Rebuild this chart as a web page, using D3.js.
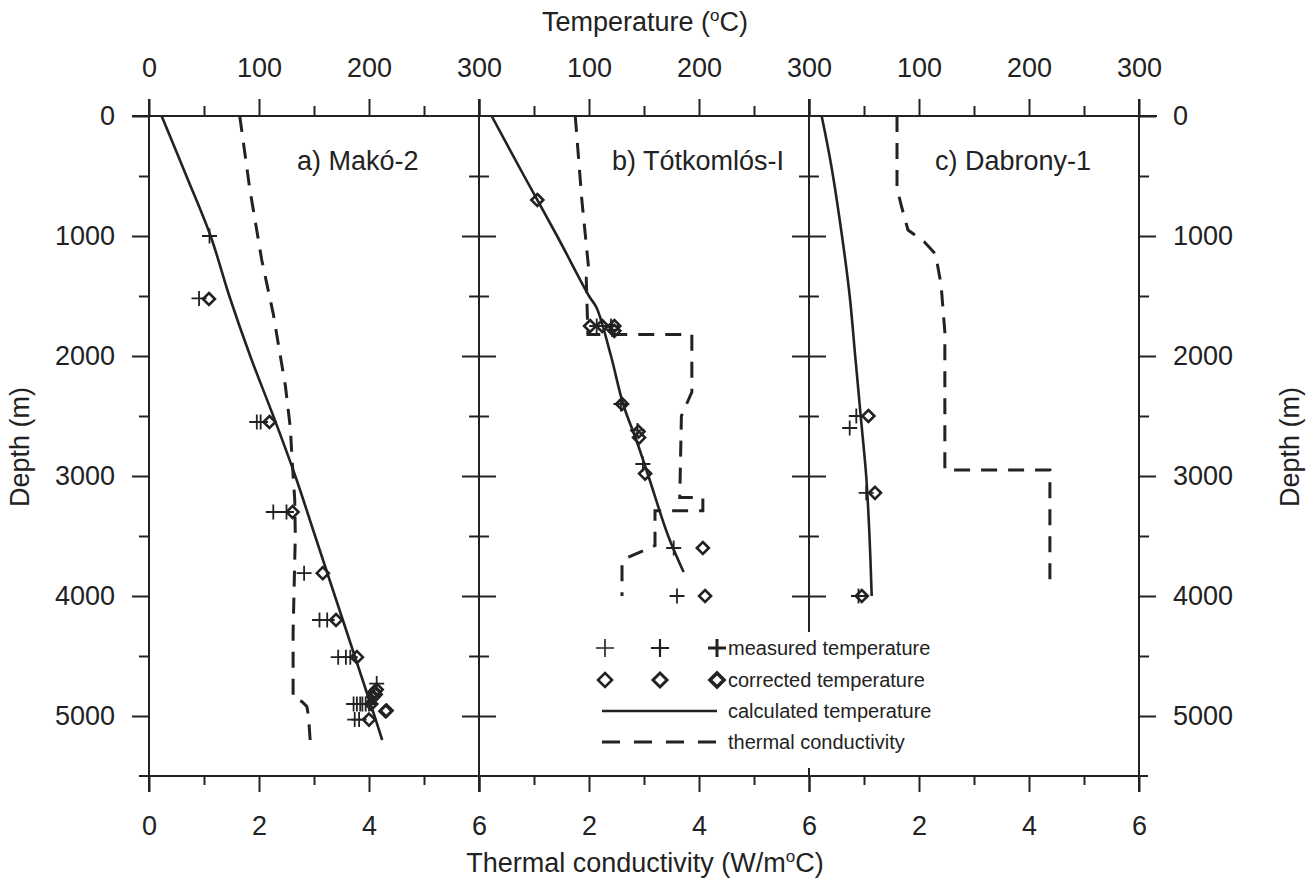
<!DOCTYPE html>
<html><head><meta charset="utf-8">
<script src="https://cdn.jsdelivr.net/npm/d3@7/dist/d3.min.js"></script>
<style>
body{margin:0;background:#fff}
text{font-family:"Liberation Sans",Arial,sans-serif;fill:#222}
</style>
</head><body>
<svg id="c" width="1306" height="880"></svg>
<script>
// ---------- data ----------
const panelNames = ["a) Makó-2", "b) Tótkomlós-I", "c) Dabrony-1"];
const tempTicks = [0, 50, 100, 150, 200, 250, 300];
const condTicks = [0, 1, 2, 3, 4, 5, 6];
const depthTicks = [0, 500, 1000, 1500, 2000, 2500, 3000, 3500, 4000, 4500, 5000];
const legendLabels = ["measured temperature", "corrected temperature", "calculated temperature", "thermal conductivity"];

// [depth (m), temperature (°C)]
const makoCalc = [[0,11.5],[500,34],[1000,56],[1500,73],[2000,92],[2500,113],[3000,133],[3500,151],[4000,169],[4500,187],[5000,205],[5200,212]];
const makoMeasured = [[1000,55],[1520,45.5],[2550,98],[2550,101.5],[3300,113],[3300,125],[3810,141],[4200,155],[4200,162],[4510,172],[4510,179],[4510,183],[4730,207],[4900,186],[4900,189],[4900,192],[4900,194],[4900,197],[4900,200],[5030,187],[5030,191]];
const makoCorrected = [[1525,54.5],[2550,109.5],[3300,130.5],[3810,158],[4200,170],[4510,189],[4780,207],[4800,205],[4820,206],[4840,204],[4900,202],[4960,215],[4955,216],[5030,200]];
// [depth (m), conductivity (W/m°C)]
const makoCond = [[0,1.65],[600,1.83],[1200,2.05],[1650,2.26],[2250,2.48],[2600,2.57],[2850,2.6],[3200,2.65],[3500,2.66],[3900,2.64],[4300,2.62],[4850,2.62],[4880,2.78],[4920,2.87],[5000,2.9],[5200,2.93]];

const totCalc = [[0,11.5],[500,41],[1000,71],[1500,100],[1600,107],[2000,120],[2400,131],[2700,143],[3000,154],[3500,172],[3800,186]];
const totMeasured = [[1750,107],[1750,120],[1780,121],[2400,129],[2620,144],[2900,149],[3600,177],[4000,180]];
const totCorrected = [[700,53],[1750,101],[1750,112],[1750,123],[1790,123],[2400,130],[2630,145],[2680,145.5],[2980,151],[3600,203.5],[4000,205.5]];
const totCond = [[0,1.75],[700,1.87],[1300,2.0],[1350,1.95],[1820,1.98],[1820,3.87],[2300,3.87],[2500,3.68],[3180,3.65],[3180,4.07],[3290,4.07],[3290,3.2],[3580,3.2],[3680,2.7],[3720,2.6],[4000,2.6]];

const dabCalc = [[0,11.5],[400,20],[1000,30],[1500,37],[2000,42],[2500,47],[3000,52],[3500,55],[4000,57]];
const dabMeasured = [[2500,43],[2600,37],[3140,52],[4000,45]];
const dabCorrected = [[2500,54],[3140,60],[4000,48]];
const dabCond = [[0,1.6],[600,1.6],[750,1.68],[950,1.8],[1050,2.1],[1150,2.3],[1400,2.4],[1800,2.47],[2950,2.47],[2950,4.38],[3870,4.38]];

const panels = [
  {name: panelNames[0], calc: makoCalc, meas: makoMeasured, corr: makoCorrected, cond: makoCond},
  {name: panelNames[1], calc: totCalc, meas: totMeasured, corr: totCorrected, cond: totCond},
  {name: panelNames[2], calc: dabCalc, meas: dabMeasured, corr: dabCorrected, cond: dabCond}
];

// ---------- layout ----------
const ink = "#222";
const FONT = "Liberation Sans, Arial, sans-serif";
const svg = d3.select("#c");
const y = d3.scaleLinear().domain([0, 5500]).range([116, 776]);
const panelX = d3.scaleLinear().domain([0, 3]).range([149, 1139]);
const crossPath = s => `M${-s},0H${s}M0,${-s}V${s}`;
const diamondPath = s => `M0,${-s}L${s},0L0,${s}L${-s},0Z`;

function styleAxis(g){
  g.attr("font-family", FONT).attr("font-size", 27);
  g.select(".domain").remove();
  g.selectAll("line").attr("stroke", ink).attr("stroke-width", 2);
  g.selectAll("text").attr("fill", ink);
}

panels.forEach((p, i) => {
  const x0 = panelX(i), x1 = panelX(i + 1);
  const xT = d3.scaleLinear().domain([0, 300]).range([x0, x1]);
  const xK = d3.scaleLinear().domain([0, 6]).range([x0, x1]);

  // top temperature axis
  svg.append("g").attr("transform", `translate(0,${y(0)})`)
    .call(d3.axisTop(xT).tickValues(tempTicks).tickSize(17).tickPadding(22)
      .tickFormat(d => (d % 100 === 0 && (i === 0 || d > 0)) ? d : ""))
    .call(styleAxis)
    .call(g => g.selectAll(".tick").filter(d => d % 100 !== 0).select("line").attr("y2", -10));

  // bottom conductivity axis
  svg.append("g").attr("transform", `translate(0,${y(5500)})`)
    .call(d3.axisBottom(xK).tickValues(condTicks).tickSize(16).tickPadding(24)
      .tickFormat(d => (d % 2 === 0 && (i === 0 || d > 0)) ? d : ""))
    .call(styleAxis)
    .call(g => g.selectAll(".tick").filter(d => d % 2 !== 0).select("line").attr("y2", 9));

  // conductivity (dashed)
  svg.append("path").datum(p.cond)
    .attr("d", d3.line().x(d => xK(d[1])).y(d => y(d[0])))
    .attr("fill", "none").attr("stroke", ink).attr("stroke-width", 3)
    .attr("stroke-dasharray", "16,11");

  // calculated temperature (solid)
  svg.append("path").datum(p.calc)
    .attr("d", d3.line().x(d => xT(d[1])).y(d => y(d[0])).curve(d3.curveCatmullRom.alpha(0.5)))
    .attr("fill", "none").attr("stroke", ink).attr("stroke-width", 2.6);

  // measured temperature (+)
  svg.append("g").selectAll("path").data(p.meas).join("path")
    .attr("transform", d => `translate(${xT(d[1])},${y(d[0])})`)
    .attr("d", crossPath(7.5)).attr("stroke", ink).attr("stroke-width", 1.8).attr("fill", "none");

  // corrected temperature (diamond)
  svg.append("g").selectAll("path").data(p.corr).join("path")
    .attr("transform", d => `translate(${xT(d[1])},${y(d[0])})`)
    .attr("d", diamondPath(6)).attr("stroke", ink).attr("stroke-width", 2.6).attr("fill", "none");

  // panel label
  svg.append("text").attr("x", x0 + [148, 133, 126][i]).attr("y", 170)
    .attr("font-size", 27).text(p.name);
});

// ---------- frame lines ----------
const frame = svg.append("g").attr("stroke", ink).attr("stroke-width", 2);
frame.append("line").attr("x1", 132).attr("x2", 1157).attr("y1", y(0)).attr("y2", y(0));
frame.append("line").attr("x1", 139).attr("x2", 1148).attr("y1", y(5500)).attr("y2", y(5500));
frame.append("line").attr("x1", panelX(0)).attr("x2", panelX(0)).attr("y1", y(0) - 17).attr("y2", y(5500) + 16);
frame.append("line").attr("x1", panelX(1)).attr("x2", panelX(1)).attr("y1", y(0) - 17).attr("y2", y(5500) + 16);
frame.append("line").attr("x1", panelX(2)).attr("x2", panelX(2)).attr("y1", y(0) - 17).attr("y2", y(4300));
frame.append("line").attr("x1", panelX(2)).attr("x2", panelX(2)).attr("y1", y(5500) - 8).attr("y2", y(5500));
frame.append("line").attr("x1", panelX(3)).attr("x2", panelX(3)).attr("y1", y(0) - 17).attr("y2", y(5500) + 16);

// depth axes
function depthAxis(xpos, axisFn, ticks, labelled, minorLen){
  svg.append("g").attr("transform", `translate(${xpos},0)`)
    .call(axisFn(y).tickValues(ticks).tickSize(17).tickPadding(17)
      .tickFormat(d => labelled && d % 1000 === 0 ? d : ""))
    .call(styleAxis)
    .call(g => g.selectAll(".tick").filter(d => d % 1000 !== 0).select("line")
      .attr("x2", axisFn === d3.axisLeft ? -minorLen : minorLen));
}
depthAxis(panelX(0), d3.axisLeft, depthTicks, true, 10);
depthAxis(panelX(3), d3.axisRight, depthTicks, true, 10);
const div1 = depthTicks.filter(d => d > 0);
depthAxis(panelX(1), d3.axisLeft, div1, false, 10);
depthAxis(panelX(1), d3.axisRight, div1, false, 10);
const div2 = depthTicks.filter(d => d > 0 && d <= 4000);
depthAxis(panelX(2), d3.axisLeft, div2, false, 10);
depthAxis(panelX(2), d3.axisRight, div2, false, 10);

// ---------- titles ----------
function degTitle(x, yb, before, after){
  const t = svg.append("text").attr("x", x).attr("y", yb).attr("text-anchor", "middle").attr("font-size", 27);
  t.append("tspan").text(before);
  t.append("tspan").attr("font-size", 17).attr("dy", -10).text("o");
  t.append("tspan").attr("dy", 10).text(after);
}
degTitle(645, 31, "Temperature (", "C)");
degTitle(645, 872, "Thermal conductivity (W/m", "C)");
svg.append("text").attr("transform", "translate(29,447) rotate(-90)").attr("text-anchor", "middle").attr("font-size", 27).text("Depth (m)");
svg.append("text").attr("transform", "translate(1299,447) rotate(-90)").attr("text-anchor", "middle").attr("font-size", 27).text("Depth (m)");

// ---------- legend ----------
const legX = [605, 660, 717];
const legY = [648, 680, 711, 742];
const leg = svg.append("g");
legX.forEach((lx, j) => {
  leg.append("path").attr("transform", `translate(${lx},${legY[0]})`).attr("d", crossPath(9))
    .attr("stroke", ink).attr("stroke-width", [1.6, 2.2, 3][j]).attr("fill", "none");
  leg.append("path").attr("transform", `translate(${lx},${legY[1]})`).attr("d", diamondPath(7))
    .attr("stroke", ink).attr("stroke-width", [2.6, 3, 3.6][j]).attr("fill", "none");
});
leg.append("line").attr("x1", 602).attr("x2", 717).attr("y1", legY[2]).attr("y2", legY[2])
  .attr("stroke", ink).attr("stroke-width", 2.6);
leg.append("line").attr("x1", 602).attr("x2", 717).attr("y1", legY[3]).attr("y2", legY[3])
  .attr("stroke", ink).attr("stroke-width", 3).attr("stroke-dasharray", "18,14");
legendLabels.forEach((t, j) => {
  leg.append("text").attr("x", 728).attr("y", legY[j]).attr("dy", "0.35em")
    .attr("font-size", 20).text(t);
});
</script>
</body></html>
